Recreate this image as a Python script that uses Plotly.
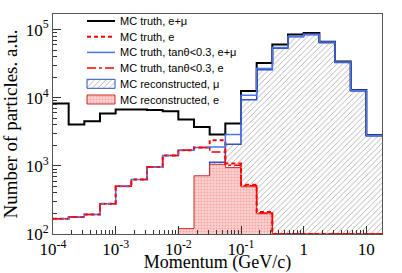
import numpy as np
import plotly.graph_objects as go

# ---- data (4 log-bins per decade, 1e-4 .. 10^1.25 GeV/c) ----
bin_edges_log = [-4 + 0.25 * k for k in range(22)]

truth_emu = [8220, 4040, 4520, 5860, 6710, 6710, 6600, 6340, 4790, 3720, 2880,
             4180, 12600, 32400, 60400, 84700, 89500, 66500, 34000, 13000, 2850]
truth_e = [168, 178, 193, 279, 501, 629, 964, 1420, 1695, 1858, 2375,
           1080, 528, 210, 0, 0, 0, 0, 0, 0, 0]
truth_tan_emu = [168, 178, 193, 279, 501, 629, 964, 1420, 1695, 1858, 1895,
                 2880, 10900, 26800, 54600, 80000, 85500, 65900, 33600, 12900, 2810]
truth_tan_e = [168, 178, 193, 279, 501, 629, 964, 1420, 1695, 1858, 1600,
               1020, 510, 203, 0, 0, 0, 0, 0, 0, 0]
reco_mu = [0, 0, 0, 0, 0, 0, 0, 0, 0, 0, 1130,
           2075, 9350, 25800, 53300, 78500, 84000, 64500, 33000, 12600, 2750]
reco_e = [0, 0, 0, 0, 0, 0, 0, 0, 120, 716, 1055,
          944, 493, 198, 0, 0, 0, 0, 0, 0, 0]

x_tick_vals = [1e-4, 1e-3, 1e-2, 1e-1, 1, 10]
x_tick_text = ["10<sup>-4</sup>", "10<sup>-3</sup>", "10<sup>-2</sup>",
               "10<sup>-1</sup>", "1", "10"]
y_tick_vals = [1e2, 1e3, 1e4, 1e5]
y_tick_text = ["10<sup>2</sup>", "10<sup>3</sup>", "10<sup>4</sup>", "10<sup>5</sup>"]

legend_labels = ["MC truth, e+μ", "MC truth, e", "MC truth, tanθ<0.3, e+μ",
                 "MC truth, tanθ<0.3, e", "MC reconstructed, μ", "MC reconstructed, e"]

Y_FLOOR = 100  # bottom of the frame; empty bins are drawn on it (as ROOT does)
edges = [10 ** v for v in bin_edges_log]


def step(vals, skip_leading_zeros=False):
    i0 = 0
    if skip_leading_zeros:
        while i0 < len(vals) and vals[i0] <= 0:
            i0 += 1
    y = [max(v, Y_FLOOR) for v in vals[i0:]]
    x = edges[i0:]
    y = y + [y[-1]]
    if i0 > 0:
        x = [edges[i0]] + x
        y = [Y_FLOOR] + y
    return x, y


# styles
S_EMU = dict(color="black", width=2)
S_E = dict(color="#ff0000", width=2, dash="4px,3px")
S_TEMU = dict(color="#4a74f0", width=1.5)
S_TE = dict(color="#ff0000", width=1.5, dash="dashdot")
S_RMU = dict(color="#3050c8", width=1.5)
S_RE = dict(color="#c83030", width=1)
P_RMU = dict(shape="/", fgcolor="#555555", bgcolor="white", size=4, solidity=0.22)
P_RE = dict(shape=".", fgcolor="#f07878", bgcolor="#fcd2d2", size=3, solidity=0.35)

fig = go.Figure()

x, y = step(reco_mu, True)
fig.add_trace(go.Scatter(x=x, y=y, mode="lines", line_shape="hv", line=S_RMU,
                         fill="tozeroy", fillcolor="rgba(0,0,0,0)", fillpattern=P_RMU,
                         showlegend=False))
x, y = step(reco_e, True)
fig.add_trace(go.Scatter(x=x, y=y, mode="lines", line_shape="hv", line=S_RE,
                         fill="tozeroy", fillcolor="#f7b0b0", fillpattern=P_RE,
                         showlegend=False))
for vals, st in [(truth_emu, S_EMU), (truth_e, S_E), (truth_tan_emu, S_TEMU), (truth_tan_e, S_TE)]:
    x, y = step(vals)
    fig.add_trace(go.Scatter(x=x, y=y, mode="lines", line_shape="hv", line=st,
                             showlegend=False, hoverinfo="skip"))

# ---- legend (drawn in an overlay frame measured in pixels of the plot area) ----
L, R, T, B = 53, 382, 14, 234
leg_y0, leg_dy = 21.0, 15.7
sx0, sx1, tx = 87, 115, 118
line_styles = [S_EMU, S_E, S_TEMU, S_TE]
for k, lab in enumerate(legend_labels):
    yc = leg_y0 + k * leg_dy
    if k < 4:
        fig.add_trace(go.Scatter(x=[sx0, sx1], y=[yc, yc], mode="lines", line=line_styles[k],
                                 xaxis="x2", yaxis="y2", showlegend=False, hoverinfo="skip"))
    else:
        h = 4.5
        st, pat, fc = (S_RMU, P_RMU, "rgba(0,0,0,0)") if k == 4 else (S_RE, P_RE, "#f7b0b0")
        fig.add_trace(go.Scatter(x=[sx0, sx1, sx1, sx0, sx0], y=[yc - h, yc - h, yc + h, yc + h, yc - h],
                                 mode="lines", line=dict(color=st["color"], width=1),
                                 fill="toself", fillcolor=fc, fillpattern=pat,
                                 xaxis="x2", yaxis="y2", showlegend=False, hoverinfo="skip"))
    fig.add_annotation(x=tx, y=yc, xref="x2", yref="y2", text=lab, showarrow=False,
                       xanchor="left", yanchor="middle",
                       font=dict(family="Liberation Sans, Arial, sans-serif", size=11, color="black"))

serif = "Liberation Serif, Times New Roman, serif"
fig.update_layout(
    width=402, height=273,
    margin=dict(l=L, r=402 - R, t=T, b=273 - B),
    paper_bgcolor="white", plot_bgcolor="white",
    showlegend=False,
    font=dict(family=serif, color="black"),
    xaxis=dict(
        type="log", range=[-4, 1.25], automargin=False,
        tickvals=x_tick_vals, ticktext=x_tick_text,
        tickfont=dict(family=serif, size=17),
        ticks="inside", ticklen=8, tickcolor="#333",
        minor=dict(ticks="inside", ticklen=4, tickcolor="#333", dtick="D1", showgrid=False),
        showline=True, linecolor="#555", linewidth=1, mirror=True,
        showgrid=False, zeroline=False,
        title=dict(text="Momentum (GeV/c)", font=dict(family=serif, size=18), standoff=1),
    ),
    yaxis=dict(
        type="log", range=[2, 5.23], automargin=False,
        tickvals=y_tick_vals, ticktext=y_tick_text,
        tickfont=dict(family=serif, size=17),
        ticks="inside", ticklen=8, tickcolor="#333",
        minor=dict(ticks="inside", ticklen=4, tickcolor="#333", dtick="D1", showgrid=False),
        showline=True, linecolor="#555", linewidth=1, mirror=True,
        showgrid=False, zeroline=False,
        title=dict(text="Number of particles. a.u.", font=dict(family=serif, size=19), standoff=2),
    ),
    xaxis2=dict(overlaying="x", anchor="y2", range=[L, R], visible=False, fixedrange=True),
    yaxis2=dict(overlaying="y", anchor="x2", range=[B, T], visible=False, fixedrange=True),
)

# the page's default 8px body margin would shift the whole figure; remove it
fig.write_html("out.html", config={"displayModeBar": False},
               post_script="document.body.style.margin='0px';")
